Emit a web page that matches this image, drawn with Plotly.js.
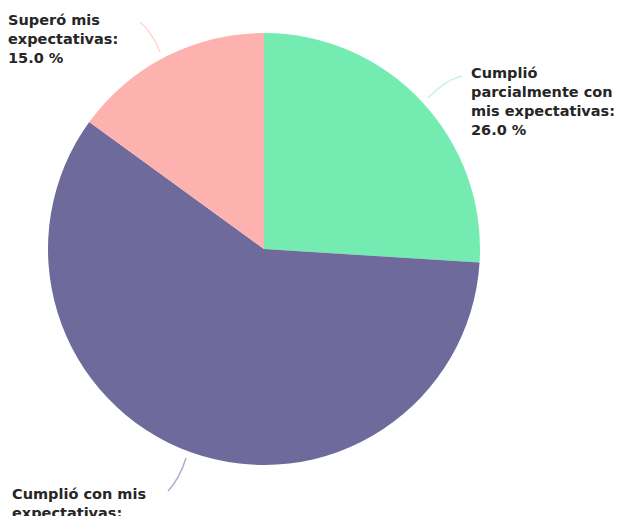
<!DOCTYPE html>
<html>
<head>
<meta charset="utf-8">
<script src="https://cdn.plot.ly/plotly-3.0.1.min.js"></script>
<style>html,body{margin:0;padding:0;background:#fff;}#chart{width:624px;height:516px;}</style>
</head>
<body>
<div id="chart"></div>
<script>
const categories = ["Cumplió parcialmente con mis expectativas", "Cumplió con mis expectativas", "Superó mis expectativas"];
const values = [26.0, 59.0, 15.0];
const colors = ["#74ECB1", "#6E6A9C", "#FEB2AF"];
const labelTexts = ["Cumplió<br>parcialmente con<br>mis expectativas:<br>26.0 %", "Cumplió con mis<br>expectativas:<br>59.0 %", "Superó mis<br>expectativas:<br>15.0 %"];

const W = 624, H = 516;
const px = x => x / W, py = y => 1 - y / H;

const labelPos = [[469, 63], [10, 484], [6, 10]];
const leaderPaths = [
  "M 428 98 Q 445 80 462 76",
  "M 186 458 Q 180 478 168 491",
  "M 160 52 Q 152 32 140 22"
];
const leaderColors = ["rgba(116,236,177,0.45)", "rgba(110,106,156,0.55)", "rgba(254,178,175,0.55)"];

function toPaperPath(p) {
  const t = p.split(" ");
  const out = [];
  let i = 0;
  while (i < t.length) {
    if (/^[A-Z]$/.test(t[i])) { out.push(t[i]); i++; continue; }
    out.push(px(+t[i]).toFixed(5) + "," + py(+t[i+1]).toFixed(5));
    i += 2;
  }
  return out.join(" ");
}

const trace = {
  type: "pie",
  labels: categories,
  values: values,
  sort: false,
  direction: "clockwise",
  rotation: 0,
  marker: { colors: colors, line: { width: 0 } },
  textinfo: "none",
  hoverinfo: "label+percent",
  domain: { x: [48 / W, 480 / W], y: [1 - 465 / H, 1 - 33 / H] },
  showlegend: false
};

const annotations = labelTexts.map((t, i) => ({
  xref: "paper", yref: "paper",
  x: px(labelPos[i][0]), y: py(labelPos[i][1]),
  xanchor: "left", yanchor: "top", align: "left",
  showarrow: false,
  text: "<b>" + t + "</b>",
  font: { family: "'DejaVu Sans', sans-serif", size: 14.5, color: "#262626" }
}));

const shapes = leaderPaths.map((p, i) => ({
  type: "path", xref: "paper", yref: "paper",
  path: toPaperPath(p),
  line: { color: leaderColors[i], width: 1.5 }
}));

const layout = {
  width: W, height: H,
  margin: { l: 0, r: 0, t: 0, b: 0 },
  paper_bgcolor: "#ffffff",
  showlegend: false,
  annotations: annotations,
  shapes: shapes
};

Plotly.newPlot("chart", [trace], layout, { displayModeBar: false, staticPlot: true });
</script>
</body>
</html>
